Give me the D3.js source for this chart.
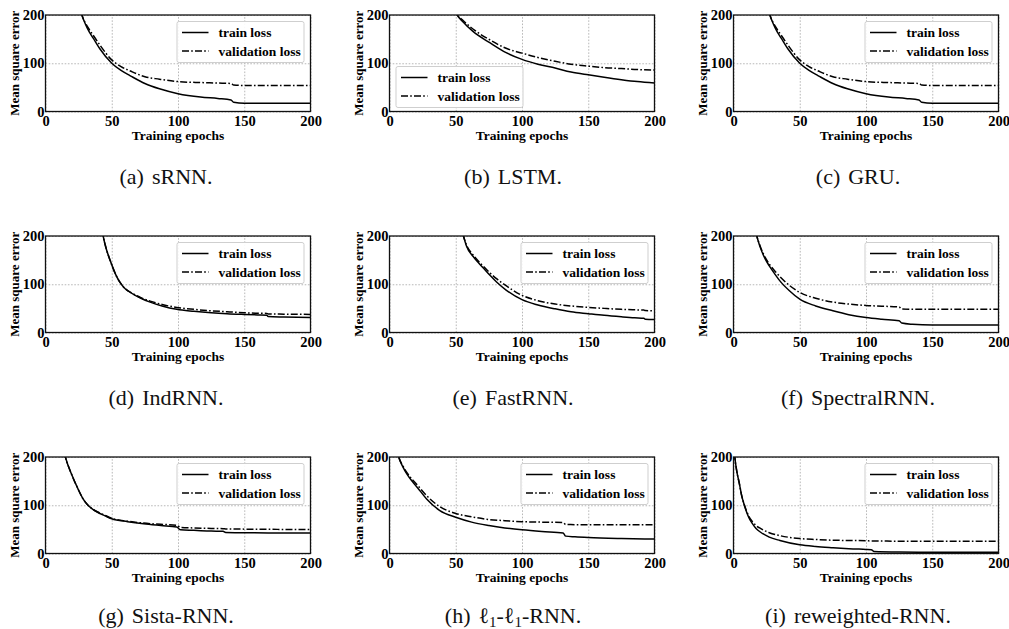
<!DOCTYPE html>
<html>
<head>
<meta charset="utf-8">
<script src="https://cdn.jsdelivr.net/npm/d3@7"></script>
<style>
  body { margin: 0; background: #fff; }
  text { font-family: "Liberation Serif", "Times New Roman", "DejaVu Serif", serif; }
</style>
</head>
<body>
<svg id="fig" width="1009" height="629"></svg>
<script>
// ---------------- data ----------------
const captionTags  = ["(a)", "(b)", "(c)", "(d)", "(e)", "(f)", "(g)", "(h)", "(i)"];
const captionNames = ["sRNN.", "LSTM.", "GRU.", "IndRNN.", "FastRNN.", "SpectralRNN.",
                      "Sista-RNN.", "ℓ_1-ℓ_1-RNN.", "reweighted-RNN."];
const seriesNames  = ["train loss", "validation loss"];
const xTicks = [0, 50, 100, 150, 200];
const yTicks = [0, 100, 200];
const xTitle = "Training epochs";
const yTitle = "Mean square error";

// sRNN
const srnnEpochs = [25, 27.5, 30, 33, 36, 41, 50, 57, 64, 75, 86, 100, 117, 130, 140, 142, 150, 175, 200];
const srnnTrain  = [232, 200, 182, 165, 152, 130, 100, 85, 74, 58, 47, 37, 30, 27, 24, 19, 17, 17, 17];
const srnnVal    = [232, 200, 184, 170, 158, 138, 107, 93, 84, 72, 67, 62, 60, 59, 58, 55, 54, 54, 54];
// LSTM
const lstmEpochs = [48, 51, 55, 63, 76, 88, 100, 112, 125, 137, 150, 162, 175, 187, 200];
const lstmTrain  = [215, 200, 187, 166, 142, 122, 108, 98, 90, 82, 76, 71, 66, 62, 59];
const lstmVal    = [215, 201, 190, 171, 148, 131, 121, 112, 104, 98, 94, 91, 89, 87, 86];
// GRU
const gruEpochs = [25, 27.5, 30, 33, 36, 41, 50, 57, 64, 75, 86, 100, 117, 130, 140, 142, 150, 175, 200];
const gruTrain  = [232, 200, 182, 165, 152, 130, 100, 85, 74, 58, 47, 37, 30, 27, 24, 19, 17, 17, 17];
const gruVal    = [232, 200, 184, 170, 158, 138, 107, 93, 84, 72, 67, 62, 60, 59, 58, 55, 54, 54, 54];
// IndRNN
const indEpochs = [41, 43.5, 46, 49, 53, 56, 59, 63, 67, 72, 79, 88, 99, 112, 125, 137, 150, 160, 167, 168, 180, 200];
const indTrain  = [240, 200, 172, 148, 120, 105, 94, 85, 78, 71, 63, 55, 48, 44, 41, 39, 37.5, 36.5, 36, 33, 32, 31];
const indVal    = [240, 200, 172, 148, 120, 105, 94, 85, 79, 72, 65, 58, 52, 48, 45, 43, 41, 40, 39.5, 38.5, 38, 37.5];
// FastRNN
const fastEpochs = [53, 55.8, 58, 63, 67, 71, 76, 81, 88, 100, 112, 125, 137, 150, 162, 175, 185, 192, 193, 200];
const fastTrain  = [230, 200, 180, 158, 145, 133, 118, 104, 88, 68, 57, 49, 43, 39, 35.5, 32.5, 30.5, 29.5, 27.5, 27];
const fastVal    = [230, 200, 182, 161, 148, 137, 123, 111, 97, 77, 66, 59, 55, 52, 50, 48, 47, 46.5, 45.5, 45];
// SpectralRNN
const specEpochs = [15, 17.6, 20, 24, 27, 31, 35, 42, 50, 62, 75, 87, 100, 112, 125, 127, 135, 150, 175, 200];
const specTrain  = [235, 200, 178, 152, 138, 122, 107, 87, 69, 55, 45, 37, 31, 27.5, 24.5, 19.5, 17, 15.5, 15.5, 15.5];
const specVal    = [235, 200, 180, 155, 142, 128, 116, 98, 83, 71, 63, 59, 56, 54.5, 53, 48.5, 48, 48, 48, 48];
// Sista-RNN
const sistaEpochs = [12, 15, 20, 24, 28, 31.4, 35, 39, 45, 50, 62, 74, 87, 99, 102, 112, 125, 134, 136, 150, 175, 200];
const sistaTrain  = [235, 200, 162, 137, 115, 102, 93, 86, 78, 72, 66, 61.5, 58, 55, 49, 48, 46.5, 46, 43.5, 43, 42.5, 42.5];
const sistaVal    = [235, 200, 162, 137, 115, 102, 93, 86.5, 79, 73, 67, 63, 60.5, 58.5, 54, 53, 52, 51.5, 51, 50.5, 50, 49.5];
// l1-l1-RNN
const l1Epochs = [5, 7, 10, 13.3, 17, 21, 28, 38, 50, 62, 75, 87, 100, 115, 131, 133, 140, 150, 175, 200];
const l1Train  = [225, 200, 180, 164, 150, 137, 113, 89, 75, 65, 58, 53, 49, 45.5, 42.5, 36, 34.5, 33, 31, 30];
const l1Val    = [225, 200, 182, 167, 154, 142, 120, 97, 83, 76, 70.5, 68, 66, 65, 64, 60, 59.8, 59.6, 59.5, 59.5];
// reweighted-RNN
const rwEpochs = [0, 1, 2.5, 4.5, 6, 8.3, 10, 12, 14, 17, 21, 27, 35, 50, 62, 75, 87, 100, 104, 106, 125, 150, 200];
const rwTrain  = [235, 200, 170, 144, 122, 99, 85, 72, 63, 52, 43, 34, 27, 18, 14.5, 12, 10, 8.5, 8, 4, 3, 2.7, 2.7];
const rwVal    = [235, 200, 170, 144, 122, 100, 87, 75, 67, 58, 51, 43, 37, 31, 29, 27.5, 27, 26.5, 26, 26, 25.5, 25.5, 25.5];

const panelData = [
  [srnnEpochs, srnnTrain, srnnVal],
  [lstmEpochs, lstmTrain, lstmVal],
  [gruEpochs, gruTrain, gruVal],
  [indEpochs, indTrain, indVal],
  [fastEpochs, fastTrain, fastVal],
  [specEpochs, specTrain, specVal],
  [sistaEpochs, sistaTrain, sistaVal],
  [l1Epochs, l1Train, l1Val],
  [rwEpochs, rwTrain, rwVal]
];

// ---------------- layout ----------------
const colX = [45.5, 389.5, 733.5];
const rowY = [15, 236, 457];
const W = 265, H = 96.5;
const captionX = [166, 513, 858];
const captionY = [184, 404.5, 623];
const legendLowerLeft = [false, true, false, false, false, false, false, false, false];
const legW = 127, legH = 41;
const dashes = [null, "7,2.2,1.6,2.2"];

const svg = d3.select("#fig");
svg.append("rect").attr("width", 1009).attr("height", 629).attr("fill", "#fff");

const x = d3.scaleLinear().domain([0, 200]).range([0, W]);
const y = d3.scaleLinear().domain([0, 200]).range([H, 0]);

panelData.forEach(([epochs, train, val], i) => {
  const c = i % 3, r = Math.floor(i / 3);
  const g = svg.append("g").attr("transform", `translate(${colX[c]},${rowY[r]})`);

  // dotted grid
  g.append("g")
    .attr("transform", `translate(0,${H})`)
    .call(d3.axisBottom(x).tickValues(xTicks).tickSize(-H).tickFormat(""))
    .call(a => a.select(".domain").remove())
    .call(a => a.selectAll("line").attr("stroke", "#b0b0b0").attr("stroke-width", 0.9).attr("stroke-dasharray", "1.6,1.6"));
  g.append("g")
    .call(d3.axisLeft(y).tickValues(yTicks).tickSize(-W).tickFormat(""))
    .call(a => a.select(".domain").remove())
    .call(a => a.selectAll("line").attr("stroke", "#b0b0b0").attr("stroke-width", 0.9).attr("stroke-dasharray", "1.6,1.6"));

  // clipped loss curves
  const clipId = "clip" + i;
  g.append("clipPath").attr("id", clipId)
    .append("rect").attr("width", W).attr("height", H);
  const line = d3.line().x(d => x(d[0])).y(d => y(d[1])).curve(d3.curveMonotoneX);
  [train, val].forEach((vals, s) => {
    g.append("path")
      .attr("clip-path", `url(#${clipId})`)
      .datum(epochs.map((e, k) => [e, vals[k]]))
      .attr("d", line)
      .attr("fill", "none")
      .attr("stroke", "#000")
      .attr("stroke-width", 1.5)
      .attr("stroke-dasharray", dashes[s]);
  });

  // frame
  g.append("rect").attr("width", W).attr("height", H)
    .attr("fill", "none").attr("stroke", "#111").attr("stroke-width", 1.3);

  // tick labels
  g.append("g")
    .attr("transform", `translate(0,${H})`)
    .call(d3.axisBottom(x).tickValues(xTicks).tickSize(0).tickPadding(4))
    .call(a => a.select(".domain").remove())
    .call(a => a.selectAll("text").attr("font-size", 14.5).attr("font-weight", "bold")
      .attr("font-family", "Liberation Serif, serif").attr("fill", "#000"));
  g.append("g")
    .call(d3.axisLeft(y).tickValues(yTicks).tickSize(0).tickPadding(1))
    .call(a => a.select(".domain").remove())
    .call(a => a.selectAll("text").attr("font-size", 14.5).attr("font-weight", "bold")
      .attr("font-family", "Liberation Serif, serif").attr("fill", "#000"));

  // axis titles
  g.append("text")
    .attr("x", W / 2).attr("y", H + 28.5)
    .attr("text-anchor", "middle")
    .attr("font-size", 13.5).attr("font-weight", "bold")
    .text(xTitle);
  g.append("text")
    .attr("transform", `translate(-27,${H / 2}) rotate(-90)`)
    .attr("text-anchor", "middle")
    .attr("font-size", 13).attr("font-weight", "bold")
    .text(yTitle);

  // legend
  const lx = legendLowerLeft[i] ? 6.5 : W - 6.5 - legW;
  const ly = legendLowerLeft[i] ? H - 4 - legH : 6.5;
  const lg = g.append("g").attr("transform", `translate(${lx},${ly})`);
  lg.append("rect").attr("width", legW).attr("height", legH).attr("rx", 2)
    .attr("fill", "#fff").attr("fill-opacity", 0.9)
    .attr("stroke", "#cfcfcf").attr("stroke-width", 1);
  seriesNames.forEach((name, s) => {
    const yy = 11 + s * 18.5;
    lg.append("line").attr("x1", 5).attr("x2", 31.5).attr("y1", yy).attr("y2", yy)
      .attr("stroke", "#000").attr("stroke-width", 1.5).attr("stroke-dasharray", dashes[s]);
    lg.append("text").attr("x", 41.5).attr("y", yy).attr("dy", "0.35em")
      .attr("font-size", 13.5).attr("font-weight", "bold").text(name);
  });

  // caption
  const cap = svg.append("text")
    .attr("x", captionX[c]).attr("y", captionY[r])
    .attr("text-anchor", "middle")
    .attr("font-size", 22).attr("fill", "#111");
  cap.append("tspan").text(captionTags[i]);
  const parts = captionNames[i].split(/_(\d)/);
  parts.forEach((p, k) => {
    const t = cap.append("tspan");
    if (k === 0) t.attr("dx", 8);
    if (k % 2 === 1) {
      t.attr("font-size", 15).attr("dy", 3.5).text(p);
    } else {
      if (k > 0) t.attr("dy", -3.5);
      t.text(p);
    }
  });
});
</script>
</body>
</html>
